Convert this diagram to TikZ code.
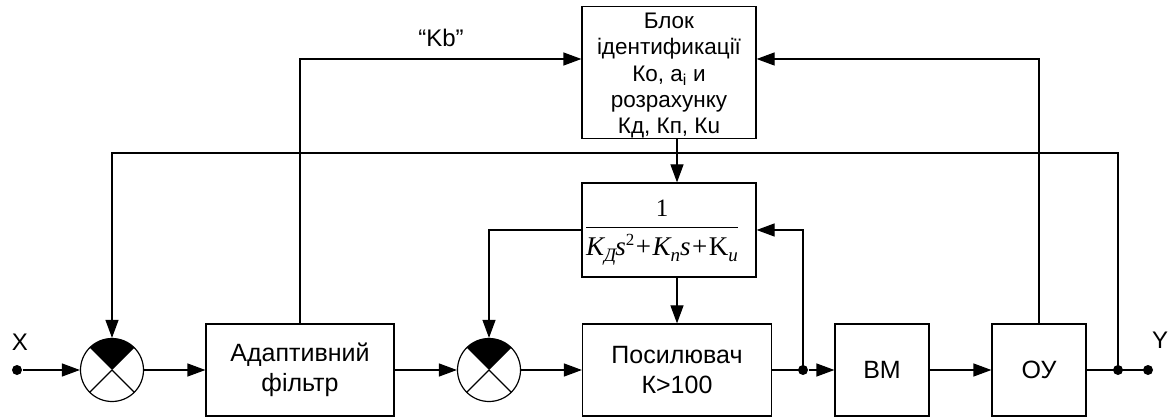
\documentclass[tikz,border=0pt]{standalone}
\usepackage{fontspec}
\setmainfont{Liberation Sans}
\newfontfamily\tnr{Liberation Serif}
\usetikzlibrary{arrows.meta}
\newcommand{\sbs}[1]{\raisebox{-6pt}{\fontsize{19}{19}\selectfont #1}}
\newcommand{\sps}[1]{\raisebox{10pt}{\fontsize{17}{17}\selectfont #1}}
\newcommand{\pls}{\kern1.5pt+\kern1.5pt}
\begin{document}
\begin{tikzpicture}[x=1pt,y=1pt,
  line width=1.2pt,
  arr/.style={-{Triangle[length=18pt,width=13pt]}},
  blk/.style={draw, rectangle, inner sep=0pt, align=center, font=\fontsize{25}{30}\selectfont},
  sumn/.style={draw, circle, fill=white, minimum size=63pt, inner sep=0pt,
    path picture={
      \fill[black] (path picture bounding box.center) -- +(45:34pt) arc[start angle=45,end angle=135,radius=34pt] -- cycle;
      \draw (path picture bounding box.center) -- +(-45:34pt);
      \draw (path picture bounding box.center) -- +(-135:34pt);
    }},
  dot/.style={circle, fill, inner sep=0pt, minimum size=10pt},
  lbl/.style={inner sep=0pt, font=\fontsize{24}{28}\selectfont},
]
\useasboundingbox (0,0) rectangle (1170,418);

\node[dot] (xin) at (17,48) {};
\node[sumn] (s1) at (112,48) {};
\node[blk, minimum width=188pt, minimum height=92pt] (filt) at (300,48) {Адаптивний\\фільтр};
\node[sumn] (s2) at (489,48) {};
\node[blk, minimum width=189pt, minimum height=92pt] (amp) at (677,48) {Посилювач\\К>100};
\node[dot] (j1) at (803,48) {};
\node[blk, minimum width=94pt, minimum height=92pt] (bm) at (882,48) {ВМ};
\node[blk, minimum width=94pt, minimum height=92pt] (oy) at (1039,48) {ОУ};
\node[dot] (j2) at (1118,48) {};
\node[dot] (yout) at (1148,48) {};

\node[blk, minimum width=174pt, minimum height=127pt, font=\fontsize{22.5}{26.3}\selectfont] (id) at (669,345.5)
  {\rule{0pt}{22pt}Блок\\ідентификації\\Ко, а\textsubscript{і} и\\розрахунку\\Кд, Кп, Кu};
\node[blk, minimum width=174pt, minimum height=94pt, font=\tnr\fontsize{27}{30}\selectfont] (frac) at (669,188)
  {\setlength{\arrayrulewidth}{1.1pt}\setlength{\tabcolsep}{0pt}%
   \begin{tabular}{c}\fontsize{25}{28}\selectfont 1\\[2pt]\hline\rule{0pt}{27pt}{\itshape K}\sbs{\itshape Д}\kern-1pt{\itshape s}\sps{2}\pls{\itshape K}\sbs{\itshape n}{\itshape s}\pls K\sbs{\itshape u}\end{tabular}\hspace*{14pt}};

\node[lbl] (xl) at (20,76) {X};
\node[lbl] (yl) at (1160,78) {Y};
\node[lbl] (kb) at (441,380) {“Kb”};

\coordinate (c1) at (1118,265);
\coordinate (c2) at (112,265);

\draw[arr] (xin) -- (s1);
\draw[arr] (s1) -- (filt);
\draw[arr] (filt) -- (s2);
\draw[arr] (s2) -- (amp);
\draw (amp) -- (j1.center);
\draw[arr] (j1) -- (bm);
\draw[arr] (bm) -- (oy);
\draw (oy) -- (j2.center) -- (yout.center);
\draw[arr] (j2.center) -- (c1) -- (c2) -- (s1);
\draw[arr] (oy.north) |- ([yshift=13.5pt]id.east);
\draw[arr] (filt.north) |- ([yshift=13.5pt]id.west);
\draw[arr] ([xshift=8pt]id.south) -- ([xshift=8pt]frac.north);
\draw[arr] ([xshift=8pt]frac.south) -- (amp.north);
\draw[arr] (frac.west) -| (s2.north);
\draw[arr] (j1.center) |- (frac.east);
\end{tikzpicture}
\end{document}
